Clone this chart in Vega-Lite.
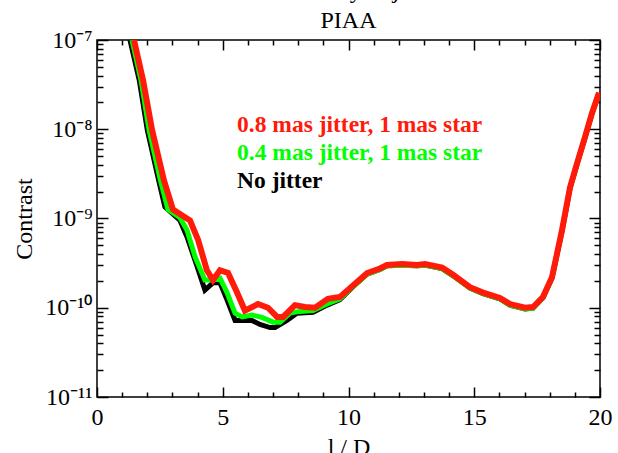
{
  "$schema": "https://vega.github.io/schema/vega-lite/v6.json",
  "width": 503,
  "height": 357,
  "autosize": {"type": "none"},
  "padding": {"left": 97, "top": 40, "right": 18, "bottom": 56},
  "background": "white",
  "config": {"view": {"stroke": "black", "strokeWidth": 1.5}},
  "title": {"text": ["Sensitivity to jitter", "PIAA"], "font": "Liberation Serif", "fontSize": 24, "fontWeight": "normal", "color": "black", "lineHeight": 30, "offset": -5, "anchor": "middle"},
  "datasets": {
    "curves": [
      {"series": "No jitter", "x": 1.31, "y": 1.0e-7},
      {"series": "No jitter", "x": 1.68, "y": 3.55e-8},
      {"series": "No jitter", "x": 2.0, "y": 9.8e-9},
      {"series": "No jitter", "x": 2.45, "y": 2.69e-9},
      {"series": "No jitter", "x": 2.7, "y": 1.35e-9},
      {"series": "No jitter", "x": 3.3, "y": 9.5e-10},
      {"series": "No jitter", "x": 3.58, "y": 6.2e-10},
      {"series": "No jitter", "x": 3.98, "y": 2.9e-10},
      {"series": "No jitter", "x": 4.29, "y": 1.58e-10},
      {"series": "No jitter", "x": 4.61, "y": 1.9e-10},
      {"series": "No jitter", "x": 4.89, "y": 1.9e-10},
      {"series": "No jitter", "x": 5.17, "y": 1.23e-10},
      {"series": "No jitter", "x": 5.49, "y": 7.2e-11},
      {"series": "No jitter", "x": 5.88, "y": 7.2e-11},
      {"series": "No jitter", "x": 6.16, "y": 7.2e-11},
      {"series": "No jitter", "x": 6.48, "y": 6.5e-11},
      {"series": "No jitter", "x": 6.88, "y": 6.0e-11},
      {"series": "No jitter", "x": 7.08, "y": 6.0e-11},
      {"series": "No jitter", "x": 7.55, "y": 7.2e-11},
      {"series": "No jitter", "x": 7.95, "y": 8.7e-11},
      {"series": "No jitter", "x": 8.59, "y": 8.9e-11},
      {"series": "No jitter", "x": 9.15, "y": 1.07e-10},
      {"series": "No jitter", "x": 9.66, "y": 1.23e-10},
      {"series": "No jitter", "x": 10.18, "y": 1.72e-10},
      {"series": "No jitter", "x": 10.74, "y": 2.38e-10},
      {"series": "No jitter", "x": 11.25, "y": 2.68e-10},
      {"series": "No jitter", "x": 11.53, "y": 2.95e-10},
      {"series": "No jitter", "x": 12.13, "y": 3.0e-10},
      {"series": "No jitter", "x": 12.72, "y": 2.95e-10},
      {"series": "No jitter", "x": 13.04, "y": 3.0e-10},
      {"series": "No jitter", "x": 13.72, "y": 2.75e-10},
      {"series": "No jitter", "x": 14.16, "y": 2.28e-10},
      {"series": "No jitter", "x": 14.83, "y": 1.66e-10},
      {"series": "No jitter", "x": 15.35, "y": 1.44e-10},
      {"series": "No jitter", "x": 16.02, "y": 1.26e-10},
      {"series": "No jitter", "x": 16.42, "y": 1.07e-10},
      {"series": "No jitter", "x": 17.02, "y": 9.7e-11},
      {"series": "No jitter", "x": 17.34, "y": 9.9e-11},
      {"series": "No jitter", "x": 17.73, "y": 1.29e-10},
      {"series": "No jitter", "x": 18.09, "y": 2.14e-10},
      {"series": "No jitter", "x": 18.49, "y": 7.3e-10},
      {"series": "No jitter", "x": 18.81, "y": 2.2e-9},
      {"series": "No jitter", "x": 19.09, "y": 4.1e-9},
      {"series": "No jitter", "x": 19.4, "y": 8.0e-9},
      {"series": "No jitter", "x": 19.68, "y": 1.49e-8},
      {"series": "No jitter", "x": 19.96, "y": 2.53e-8},

      {"series": "0.4 mas jitter, 1 mas star", "x": 1.39, "y": 1.0e-7},
      {"series": "0.4 mas jitter, 1 mas star", "x": 1.75, "y": 3.55e-8},
      {"series": "0.4 mas jitter, 1 mas star", "x": 2.07, "y": 9.8e-9},
      {"series": "0.4 mas jitter, 1 mas star", "x": 2.52, "y": 2.69e-9},
      {"series": "0.4 mas jitter, 1 mas star", "x": 2.82, "y": 1.26e-9},
      {"series": "0.4 mas jitter, 1 mas star", "x": 3.3, "y": 1.02e-9},
      {"series": "0.4 mas jitter, 1 mas star", "x": 3.58, "y": 7.4e-10},
      {"series": "0.4 mas jitter, 1 mas star", "x": 3.9, "y": 3.72e-10},
      {"series": "0.4 mas jitter, 1 mas star", "x": 4.29, "y": 2.04e-10},
      {"series": "0.4 mas jitter, 1 mas star", "x": 4.61, "y": 2.04e-10},
      {"series": "0.4 mas jitter, 1 mas star", "x": 4.89, "y": 2.14e-10},
      {"series": "0.4 mas jitter, 1 mas star", "x": 5.17, "y": 1.48e-10},
      {"series": "0.4 mas jitter, 1 mas star", "x": 5.49, "y": 8.7e-11},
      {"series": "0.4 mas jitter, 1 mas star", "x": 5.77, "y": 7.9e-11},
      {"series": "0.4 mas jitter, 1 mas star", "x": 6.16, "y": 8.3e-11},
      {"series": "0.4 mas jitter, 1 mas star", "x": 6.56, "y": 7.8e-11},
      {"series": "0.4 mas jitter, 1 mas star", "x": 7.0, "y": 6.9e-11},
      {"series": "0.4 mas jitter, 1 mas star", "x": 7.28, "y": 6.9e-11},
      {"series": "0.4 mas jitter, 1 mas star", "x": 7.67, "y": 8.7e-11},
      {"series": "0.4 mas jitter, 1 mas star", "x": 8.07, "y": 9.1e-11},
      {"series": "0.4 mas jitter, 1 mas star", "x": 8.59, "y": 9.3e-11},
      {"series": "0.4 mas jitter, 1 mas star", "x": 9.15, "y": 1.1e-10},
      {"series": "0.4 mas jitter, 1 mas star", "x": 9.66, "y": 1.26e-10},
      {"series": "0.4 mas jitter, 1 mas star", "x": 10.18, "y": 1.72e-10},
      {"series": "0.4 mas jitter, 1 mas star", "x": 10.74, "y": 2.38e-10},
      {"series": "0.4 mas jitter, 1 mas star", "x": 11.25, "y": 2.68e-10},
      {"series": "0.4 mas jitter, 1 mas star", "x": 11.53, "y": 2.95e-10},
      {"series": "0.4 mas jitter, 1 mas star", "x": 12.13, "y": 3.0e-10},
      {"series": "0.4 mas jitter, 1 mas star", "x": 12.72, "y": 2.95e-10},
      {"series": "0.4 mas jitter, 1 mas star", "x": 13.04, "y": 3.0e-10},
      {"series": "0.4 mas jitter, 1 mas star", "x": 13.72, "y": 2.75e-10},
      {"series": "0.4 mas jitter, 1 mas star", "x": 14.16, "y": 2.28e-10},
      {"series": "0.4 mas jitter, 1 mas star", "x": 14.83, "y": 1.66e-10},
      {"series": "0.4 mas jitter, 1 mas star", "x": 15.35, "y": 1.44e-10},
      {"series": "0.4 mas jitter, 1 mas star", "x": 16.02, "y": 1.26e-10},
      {"series": "0.4 mas jitter, 1 mas star", "x": 16.42, "y": 1.07e-10},
      {"series": "0.4 mas jitter, 1 mas star", "x": 17.02, "y": 9.7e-11},
      {"series": "0.4 mas jitter, 1 mas star", "x": 17.34, "y": 9.9e-11},
      {"series": "0.4 mas jitter, 1 mas star", "x": 17.73, "y": 1.29e-10},
      {"series": "0.4 mas jitter, 1 mas star", "x": 18.09, "y": 2.14e-10},
      {"series": "0.4 mas jitter, 1 mas star", "x": 18.49, "y": 7.3e-10},
      {"series": "0.4 mas jitter, 1 mas star", "x": 18.81, "y": 2.2e-9},
      {"series": "0.4 mas jitter, 1 mas star", "x": 19.09, "y": 4.1e-9},
      {"series": "0.4 mas jitter, 1 mas star", "x": 19.4, "y": 8.0e-9},
      {"series": "0.4 mas jitter, 1 mas star", "x": 19.68, "y": 1.49e-8},
      {"series": "0.4 mas jitter, 1 mas star", "x": 19.96, "y": 2.53e-8},

      {"series": "0.8 mas jitter, 1 mas star", "x": 1.47, "y": 1.0e-7},
      {"series": "0.8 mas jitter, 1 mas star", "x": 1.83, "y": 3.55e-8},
      {"series": "0.8 mas jitter, 1 mas star", "x": 2.19, "y": 9.8e-9},
      {"series": "0.8 mas jitter, 1 mas star", "x": 2.66, "y": 2.69e-9},
      {"series": "0.8 mas jitter, 1 mas star", "x": 3.02, "y": 1.26e-9},
      {"series": "0.8 mas jitter, 1 mas star", "x": 3.7, "y": 9.5e-10},
      {"series": "0.8 mas jitter, 1 mas star", "x": 4.02, "y": 5.75e-10},
      {"series": "0.8 mas jitter, 1 mas star", "x": 4.37, "y": 2.63e-10},
      {"series": "0.8 mas jitter, 1 mas star", "x": 4.61, "y": 2.04e-10},
      {"series": "0.8 mas jitter, 1 mas star", "x": 4.89, "y": 2.63e-10},
      {"series": "0.8 mas jitter, 1 mas star", "x": 5.21, "y": 2.45e-10},
      {"series": "0.8 mas jitter, 1 mas star", "x": 5.57, "y": 1.48e-10},
      {"series": "0.8 mas jitter, 1 mas star", "x": 5.88, "y": 9.3e-11},
      {"series": "0.8 mas jitter, 1 mas star", "x": 6.4, "y": 1.1e-10},
      {"series": "0.8 mas jitter, 1 mas star", "x": 6.8, "y": 1.0e-10},
      {"series": "0.8 mas jitter, 1 mas star", "x": 7.16, "y": 7.9e-11},
      {"series": "0.8 mas jitter, 1 mas star", "x": 7.4, "y": 7.9e-11},
      {"series": "0.8 mas jitter, 1 mas star", "x": 7.87, "y": 1.07e-10},
      {"series": "0.8 mas jitter, 1 mas star", "x": 8.27, "y": 1.02e-10},
      {"series": "0.8 mas jitter, 1 mas star", "x": 8.67, "y": 1.0e-10},
      {"series": "0.8 mas jitter, 1 mas star", "x": 9.18, "y": 1.26e-10},
      {"series": "0.8 mas jitter, 1 mas star", "x": 9.66, "y": 1.32e-10},
      {"series": "0.8 mas jitter, 1 mas star", "x": 10.18, "y": 1.78e-10},
      {"series": "0.8 mas jitter, 1 mas star", "x": 10.74, "y": 2.45e-10},
      {"series": "0.8 mas jitter, 1 mas star", "x": 11.25, "y": 2.75e-10},
      {"series": "0.8 mas jitter, 1 mas star", "x": 11.53, "y": 3.02e-10},
      {"series": "0.8 mas jitter, 1 mas star", "x": 12.13, "y": 3.09e-10},
      {"series": "0.8 mas jitter, 1 mas star", "x": 12.72, "y": 3.02e-10},
      {"series": "0.8 mas jitter, 1 mas star", "x": 13.04, "y": 3.09e-10},
      {"series": "0.8 mas jitter, 1 mas star", "x": 13.72, "y": 2.82e-10},
      {"series": "0.8 mas jitter, 1 mas star", "x": 14.16, "y": 2.34e-10},
      {"series": "0.8 mas jitter, 1 mas star", "x": 14.83, "y": 1.7e-10},
      {"series": "0.8 mas jitter, 1 mas star", "x": 15.35, "y": 1.48e-10},
      {"series": "0.8 mas jitter, 1 mas star", "x": 16.02, "y": 1.29e-10},
      {"series": "0.8 mas jitter, 1 mas star", "x": 16.42, "y": 1.1e-10},
      {"series": "0.8 mas jitter, 1 mas star", "x": 17.02, "y": 1.0e-10},
      {"series": "0.8 mas jitter, 1 mas star", "x": 17.34, "y": 1.02e-10},
      {"series": "0.8 mas jitter, 1 mas star", "x": 17.73, "y": 1.32e-10},
      {"series": "0.8 mas jitter, 1 mas star", "x": 18.09, "y": 2.19e-10},
      {"series": "0.8 mas jitter, 1 mas star", "x": 18.49, "y": 7.4e-10},
      {"series": "0.8 mas jitter, 1 mas star", "x": 18.81, "y": 2.24e-9},
      {"series": "0.8 mas jitter, 1 mas star", "x": 19.09, "y": 4.17e-9},
      {"series": "0.8 mas jitter, 1 mas star", "x": 19.4, "y": 8.13e-9},
      {"series": "0.8 mas jitter, 1 mas star", "x": 19.68, "y": 1.51e-8},
      {"series": "0.8 mas jitter, 1 mas star", "x": 19.96, "y": 2.57e-8}
    ],
    "labels": [
      {"series": "0.8 mas jitter, 1 mas star", "x": 5.57, "y": 9.31e-9},
      {"series": "0.4 mas jitter, 1 mas star", "x": 5.57, "y": 4.52e-9},
      {"series": "No jitter", "x": 5.57, "y": 2.2e-9}
    ]
  },
  "layer": [
    {
      "data": {"name": "curves"},
      "transform": [{"filter": "datum.series == 'No jitter'"}],
      "mark": {"type": "line", "strokeWidth": 5, "clip": true},
      "encoding": {
        "x": {"field": "x", "type": "quantitative",
          "scale": {"domain": [0, 20], "nice": false, "zero": false},
          "axis": {"orient": "bottom", "values": [0,1,2,3,4,5,6,7,8,9,10,11,12,13,14,15,16,17,18,19,20],
            "labelExpr": "datum.value % 5 == 0 ? datum.label : ''",
            "labelFont": "Liberation Serif", "labelFontSize": 24, "labelColor": "black", "labelAngle": 0,
            "labelFlush": false, "labelOverlap": false, "labelPadding": 18,
            "tickColor": "black", "tickWidth": 1.5,
            "tickSize": {"condition": {"test": "datum.value % 5 == 0", "value": -10}, "value": -5},
            "domain": false, "grid": false,
            "title": "l / D", "titleFont": "Liberation Serif", "titleFontSize": 24, "titleFontWeight": "normal", "titleColor": "black", "titlePadding": 1}},
        "y": {"field": "y", "type": "quantitative",
          "scale": {"type": "log", "domain": [1e-11, 1e-7], "nice": false},
          "axis": {"orient": "left",
            "values": [1e-11,2e-11,3e-11,4e-11,5e-11,6e-11,7e-11,8e-11,9e-11,1e-10,2e-10,3e-10,4e-10,5e-10,6e-10,7e-10,8e-10,9e-10,1e-9,2e-9,3e-9,4e-9,5e-9,6e-9,7e-9,8e-9,9e-9,1e-8,2e-8,3e-8,4e-8,5e-8,6e-8,7e-8,8e-8,9e-8,1e-7],
            "labelExpr": "abs(log(datum.value)/LN10 - round(log(datum.value)/LN10)) < 0.001 ? (round(log(datum.value)/LN10) == -7 ? '10⁻⁷' : round(log(datum.value)/LN10) == -8 ? '10⁻⁸' : round(log(datum.value)/LN10) == -9 ? '10⁻⁹' : round(log(datum.value)/LN10) == -10 ? '10⁻¹⁰' : '10⁻¹¹') : ''",
            "labelFont": "Liberation Serif", "labelFontSize": 24, "labelColor": "black",
            "labelFlush": false, "labelOverlap": false, "labelPadding": 16,
            "tickColor": "black", "tickWidth": 1.5,
            "tickSize": {"condition": {"test": "abs(log(datum.value)/LN10 - round(log(datum.value)/LN10)) < 0.001", "value": -11}, "value": -6},
            "domain": false, "grid": false,
            "title": "Contrast", "titleFont": "Liberation Serif", "titleFontSize": 24, "titleFontWeight": "normal", "titleColor": "black", "titlePadding": 8}},
        "color": {"field": "series", "type": "nominal",
          "scale": {"domain": ["No jitter", "0.4 mas jitter, 1 mas star", "0.8 mas jitter, 1 mas star"], "range": ["#000000", "#00ff00", "#ff1a0a"]},
          "legend": null}
      }
    },
    {
      "data": {"name": "curves"},
      "transform": [{"filter": "datum.series == '0.4 mas jitter, 1 mas star'"}],
      "mark": {"type": "line", "strokeWidth": 5, "clip": true},
      "encoding": {
        "x": {"field": "x", "type": "quantitative",
          "scale": {"domain": [0, 20], "nice": false, "zero": false},
          "axis": {"orient": "top", "values": [0,1,2,3,4,5,6,7,8,9,10,11,12,13,14,15,16,17,18,19,20],
            "labels": false, "title": null, "domain": false, "grid": false,
            "tickColor": "black", "tickWidth": 1.5,
            "tickSize": {"condition": {"test": "datum.value % 5 == 0", "value": -10}, "value": -5}}},
        "y": {"field": "y", "type": "quantitative",
          "scale": {"type": "log", "domain": [1e-11, 1e-7], "nice": false},
          "axis": {"orient": "right",
            "values": [1e-11,2e-11,3e-11,4e-11,5e-11,6e-11,7e-11,8e-11,9e-11,1e-10,2e-10,3e-10,4e-10,5e-10,6e-10,7e-10,8e-10,9e-10,1e-9,2e-9,3e-9,4e-9,5e-9,6e-9,7e-9,8e-9,9e-9,1e-8,2e-8,3e-8,4e-8,5e-8,6e-8,7e-8,8e-8,9e-8,1e-7],
            "labels": false, "title": null, "domain": false, "grid": false,
            "tickColor": "black", "tickWidth": 1.5,
            "tickSize": {"condition": {"test": "abs(log(datum.value)/LN10 - round(log(datum.value)/LN10)) < 0.001", "value": -11}, "value": -6}}},
        "color": {"field": "series", "type": "nominal", "legend": null}
      }
    },
    {
      "data": {"name": "curves"},
      "transform": [{"filter": "datum.series == '0.8 mas jitter, 1 mas star'"}],
      "mark": {"type": "line", "strokeWidth": 6, "clip": true},
      "encoding": {
        "x": {"field": "x", "type": "quantitative", "axis": null},
        "y": {"field": "y", "type": "quantitative", "axis": null},
        "color": {"field": "series", "type": "nominal", "legend": null}
      }
    },
    {
      "data": {"name": "labels"},
      "mark": {"type": "text", "align": "left", "baseline": "alphabetic", "font": "Liberation Serif", "fontSize": 23.5, "fontWeight": "bold"},
      "encoding": {
        "x": {"field": "x", "type": "quantitative", "axis": null},
        "y": {"field": "y", "type": "quantitative", "axis": null},
        "text": {"field": "series"},
        "color": {"field": "series", "type": "nominal", "legend": null}
      }
    }
  ],
  "resolve": {"axis": {"x": "independent", "y": "independent"}}
}
